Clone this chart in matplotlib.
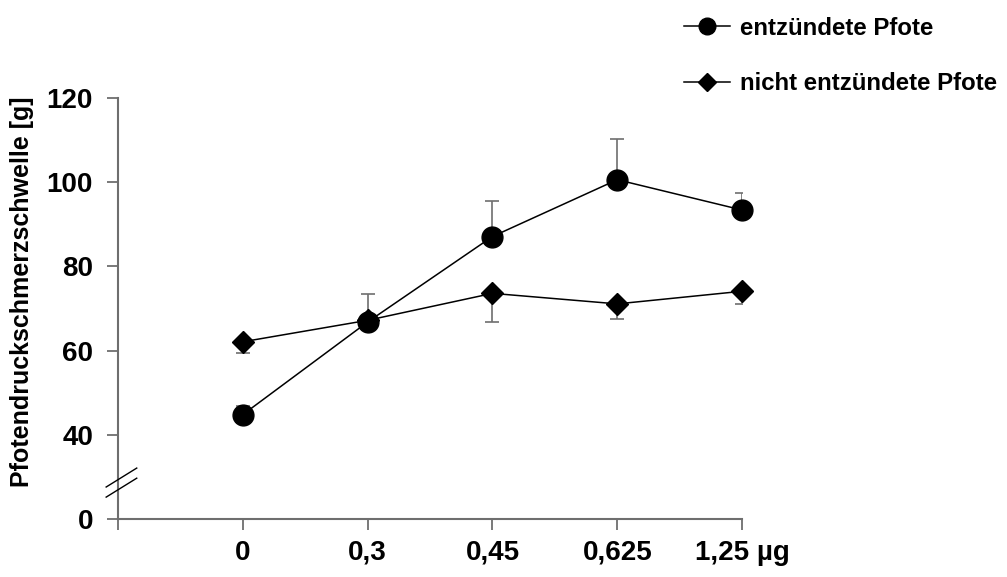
import matplotlib.pyplot as plt
from matplotlib.lines import Line2D

plt.rcParams['font.family'] = ['Liberation Sans', 'DejaVu Sans']
plt.rcParams['font.weight'] = 'bold'

doses = ["0", "0,3", "0,45", "0,625", "1,25 µg"]
inflamed = [44.8, 66.8, 87.1, 100.6, 93.4]
inflamed_err = [2.0, 6.6, 8.4, 9.6, 4.0]
healthy = [62.1, 67.2, 73.6, 71.1, 74.1]
healthy_err = [2.7, 0.0, 6.8, 3.7, 3.0]

yticks = [20, 40, 60, 80, 100, 120]
ylabels = ["0", "40", "60", "80", "100", "120"]

fig = plt.figure(figsize=(10.07, 5.77), dpi=100)
ax = fig.add_axes([0.1172, 0.1005, 0.6197, 0.7296])

x = list(range(len(doses)))
gray = "#6e6e6e"

ax.errorbar(x, inflamed, yerr=[[0] * 5, inflamed_err], fmt='none',
            ecolor=gray, elinewidth=1.2, capsize=5, capthick=1.2, zorder=2)
ax.errorbar(x, healthy, yerr=[healthy_err, [0] * 5], fmt='none',
            ecolor=gray, elinewidth=1.2, capsize=5, capthick=1.2, zorder=2)
l1, = ax.plot(x, inflamed, color='black', lw=1.1, marker='o', markersize=15,
              label="entzündete Pfote", zorder=3, clip_on=False)
l2, = ax.plot(x, healthy, color='black', lw=1.1, marker='D', markersize=11,
              label="nicht entzündete Pfote", zorder=3, clip_on=False)

ax.set_xlim(-1, 4)
ax.set_ylim(20, 120)
ax.set_xticks([-1] + x)
ax.set_xticklabels([""] + doses, fontsize=20, fontweight='bold')
ax.set_yticks(yticks)
ax.set_yticklabels(ylabels, fontsize=20, fontweight='bold')
ax.tick_params(axis='x', direction='out', length=8, width=1.3, color=gray, pad=7)
ax.tick_params(axis='y', direction='out', length=8, width=1.3, color=gray, pad=10)

for s in ['top', 'right']:
    ax.spines[s].set_visible(False)
for s in ['left', 'bottom']:
    ax.spines[s].set_color(gray)
    ax.spines[s].set_linewidth(1.5)
    ax.spines[s].set_zorder(1)

# axis break marks
for y0 in (0.076, 0.052):
    ax.add_line(Line2D([-0.019, 0.030], [y0, y0 + 0.045], transform=ax.transAxes,
                       color='black', lw=1, clip_on=False))

fig.text(22 / 1007, 1 - 292 / 577, "Pfotendruckschmerzschwelle [g]", rotation=90,
         fontsize=18, fontweight='bold', ha='center', va='center')

fig.legend(handles=[l1, l2], loc='upper left', bbox_to_anchor=(662 / 1007, 1 + 5 / 577),
           frameon=False, prop={'weight': 'bold', 'size': 17.3},
           handlelength=1.95, handletextpad=0.4, labelspacing=1.35, markerscale=0.8)

fig.savefig("out.png", dpi=100)
